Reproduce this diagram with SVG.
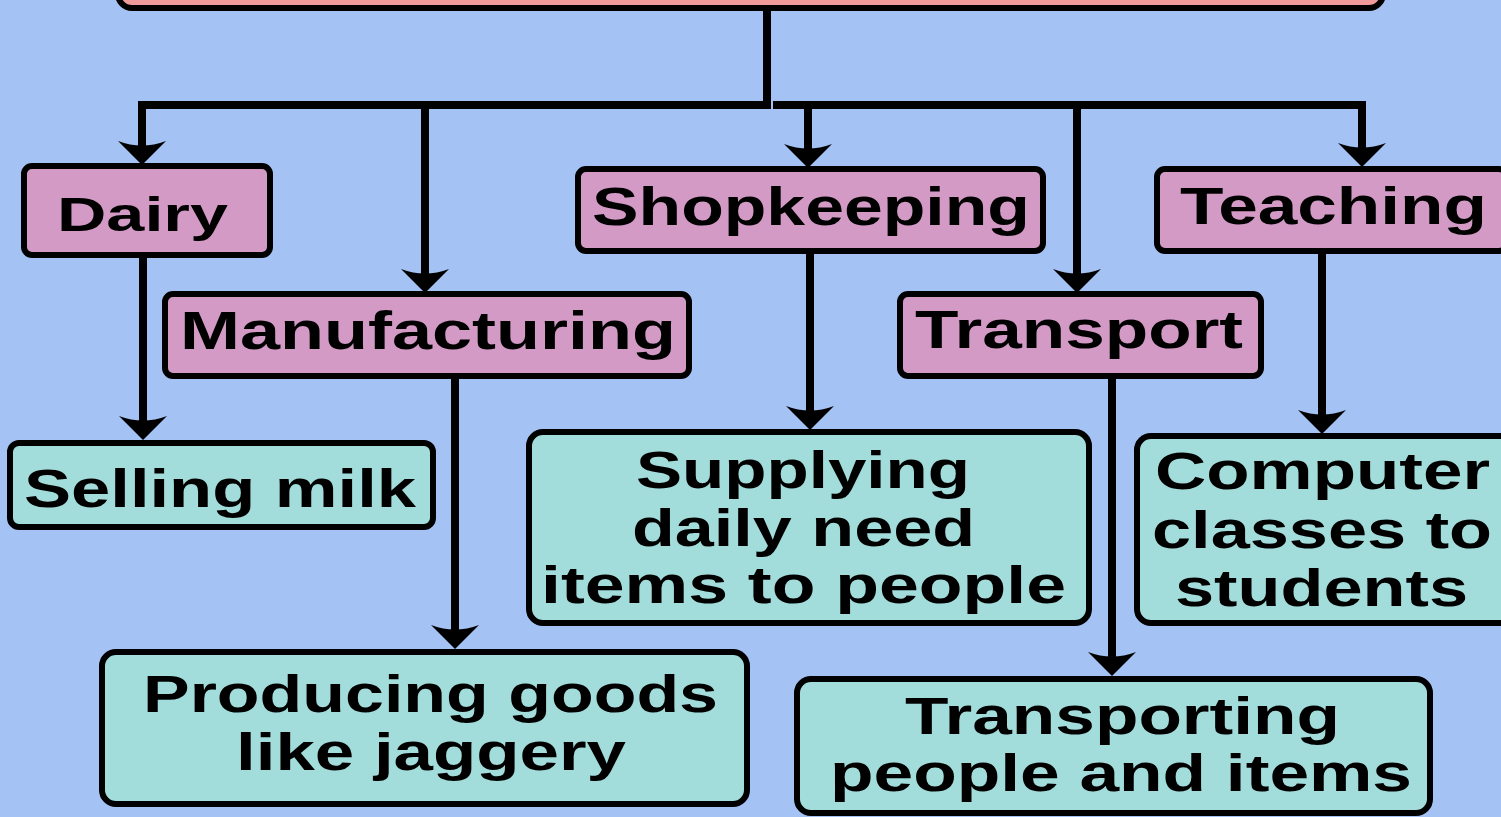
<svg xmlns="http://www.w3.org/2000/svg" width="1501" height="817" viewBox="0 0 1501 817">
  <style>
    .bg { fill: #a4c2f4; }
    .root { fill: #f09a9a; stroke: #000; stroke-width: 6; }
    .cat { fill: #d39ac6; stroke: #000; stroke-width: 6; }
    .leaf { fill: #a2dcdb; stroke: #000; stroke-width: 6; }
    .lbl { font-family: "Liberation Sans", Arial, sans-serif; font-weight: bold; fill: #000; }
    .wire { fill: none; stroke: #000; stroke-width: 8; }
    .arrow { marker-end: url(#head); }
  </style>
  <defs>
    <marker id="head" viewBox="0 -25 26 50" markerUnits="userSpaceOnUse" markerWidth="26" markerHeight="50" refX="16" refY="0" orient="auto">
      <path d="M26,0 L2,-24 Q11,0 2,24 Z" fill="#000"/>
    </marker>
  </defs>

  <rect class="bg" x="0" y="0" width="1501" height="817"/>

  <!-- top-level box (extends above the top edge) -->
  <g id="root">
    <rect class="root" x="118" y="-60" width="1265" height="68" rx="14"/>
  </g>

  <!-- connectors -->
  <g id="connectors">
    <line class="wire" x1="767" y1="8" x2="767" y2="108"/>
    <line class="wire" x1="138" y1="105" x2="771" y2="105"/>
    <line class="wire" x1="773" y1="105" x2="1366" y2="105"/>
    <line class="wire arrow" x1="142" y1="104" x2="142" y2="155"/>
    <line class="wire arrow" x1="425" y1="104" x2="425" y2="283"/>
    <line class="wire arrow" x1="808" y1="104" x2="808" y2="158"/>
    <line class="wire arrow" x1="1077" y1="104" x2="1077" y2="283"/>
    <line class="wire arrow" x1="1362" y1="104" x2="1362" y2="157"/>
    <line class="wire arrow" x1="143" y1="255" x2="143" y2="430"/>
    <line class="wire arrow" x1="455" y1="377" x2="455" y2="639"/>
    <line class="wire arrow" x1="810" y1="252" x2="810" y2="420"/>
    <line class="wire arrow" x1="1112" y1="377" x2="1112" y2="666"/>
    <line class="wire arrow" x1="1322" y1="252" x2="1322" y2="424"/>
  </g>

  <g id="dairy">
    <rect class="cat" x="24" y="166" width="246" height="89" rx="8"/>
    <text class="lbl" x="57" y="231" font-size="49" textLength="171" lengthAdjust="spacingAndGlyphs">Dairy</text>
  </g>
  <g id="manufacturing">
    <rect class="cat" x="165" y="294" width="524" height="82" rx="8"/>
    <text class="lbl" x="180" y="349" font-size="53" textLength="496" lengthAdjust="spacingAndGlyphs">Manufacturing</text>
  </g>
  <g id="shopkeeping">
    <rect class="cat" x="578" y="169" width="465" height="82" rx="8"/>
    <text class="lbl" x="592" y="225" font-size="53" textLength="438" lengthAdjust="spacingAndGlyphs">Shopkeeping</text>
  </g>
  <g id="transport">
    <rect class="cat" x="900" y="294" width="361" height="82" rx="8"/>
    <text class="lbl" x="915" y="348" font-size="53" textLength="328" lengthAdjust="spacingAndGlyphs">Transport</text>
  </g>
  <g id="teaching">
    <rect class="cat" x="1157" y="169" width="350" height="82" rx="8"/>
    <text class="lbl" x="1180" y="224" font-size="51" textLength="307" lengthAdjust="spacingAndGlyphs">Teaching</text>
  </g>

  <g id="selling-milk">
    <rect class="leaf" x="10" y="443" width="423" height="84" rx="9"/>
    <text class="lbl" x="24" y="507" font-size="53" textLength="392" lengthAdjust="spacingAndGlyphs">Selling milk</text>
  </g>
  <g id="supplying">
    <rect class="leaf" x="529" y="432" width="560" height="191" rx="14"/>
    <text class="lbl" x="636" y="488" font-size="51" textLength="334" lengthAdjust="spacingAndGlyphs">Supplying</text>
    <text class="lbl" x="632" y="546" font-size="51" textLength="343" lengthAdjust="spacingAndGlyphs">daily need</text>
    <text class="lbl" x="541" y="603" font-size="51" textLength="525" lengthAdjust="spacingAndGlyphs">items to people</text>
  </g>
  <g id="computer">
    <rect class="leaf" x="1137" y="436" width="380" height="187" rx="14"/>
    <text class="lbl" x="1155" y="489" font-size="51" textLength="335" lengthAdjust="spacingAndGlyphs">Computer</text>
    <text class="lbl" x="1152" y="548" font-size="51" textLength="340" lengthAdjust="spacingAndGlyphs">classes to</text>
    <text class="lbl" x="1175" y="606" font-size="51" textLength="293" lengthAdjust="spacingAndGlyphs">students</text>
  </g>
  <g id="producing">
    <rect class="leaf" x="102" y="652" width="645" height="152" rx="14"/>
    <text class="lbl" x="143" y="712" font-size="51" textLength="575" lengthAdjust="spacingAndGlyphs">Producing goods</text>
    <text class="lbl" x="236" y="770" font-size="51" textLength="390" lengthAdjust="spacingAndGlyphs">like jaggery</text>
  </g>
  <g id="transporting">
    <rect class="leaf" x="797" y="679" width="633" height="134" rx="14"/>
    <text class="lbl" x="905" y="734" font-size="51" textLength="435" lengthAdjust="spacingAndGlyphs">Transporting</text>
    <text class="lbl" x="830" y="791" font-size="51" textLength="582" lengthAdjust="spacingAndGlyphs">people and items</text>
  </g>
</svg>
